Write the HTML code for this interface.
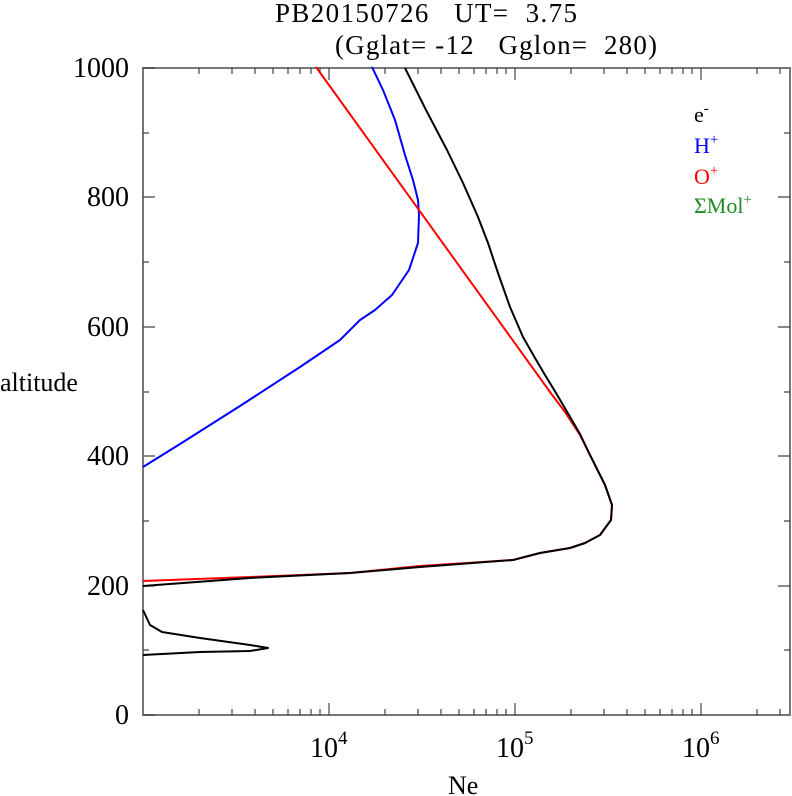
<!DOCTYPE html><html><head><style>body{margin:0;background:#fff}svg{display:block}text{font-family:"Liberation Serif",serif}</style></head><body>
<svg width="792" height="796" viewBox="0 0 792 796">
<text x="275" y="22" font-size="27" xml:space="preserve" textLength="302" lengthAdjust="spacing">PB20150726   UT=  3.75</text>
<text x="335" y="54" font-size="27" xml:space="preserve" textLength="322" lengthAdjust="spacing">(Gglat= -12   Gglon=  280)</text>
<g stroke="#777" stroke-width="2" fill="none"><rect x="143" y="68" width="647" height="647"/></g>
<g stroke="#444" stroke-width="1.2">
<path d="M143 715h12M143 586h12M143 456h12M143 327h12M143 197h12M143 68h12M790 586h-12M790 456h-12M790 327h-12M790 197h-12M143 650h6M143 521h6M143 392h6M143 262h6M143 133h6M790 650h-6M790 521h-6M790 392h-6M790 262h-6M790 133h-6"/>
<path d="M329 715v-12M515 715v-12M701 715v-12M329 68v12M515 68v12M701 68v12"/>
<path d="M199 715v-6M232 715v-6M255 715v-6M273 715v-6M288 715v-6M300 715v-6M311 715v-6M320 715v-6M385 715v-6M418 715v-6M441 715v-6M459 715v-6M474 715v-6M486 715v-6M497 715v-6M506 715v-6M571 715v-6M604 715v-6M627 715v-6M645 715v-6M660 715v-6M672 715v-6M683 715v-6M692 715v-6M757 715v-6M780 715v-6"/>
<path d="M199 68v6M232 68v6M255 68v6M273 68v6M288 68v6M300 68v6M311 68v6M320 68v6M385 68v6M418 68v6M441 68v6M459 68v6M474 68v6M486 68v6M497 68v6M506 68v6M571 68v6M604 68v6M627 68v6M645 68v6M660 68v6M672 68v6M683 68v6M692 68v6M757 68v6M780 68v6"/>
</g>
<g font-size="28" text-anchor="end">
<text x="129" y="724">0</text><text x="129" y="595">200</text><text x="129" y="465">400</text><text x="129" y="336">600</text><text x="129" y="206">800</text><text x="129" y="77">1000</text></g>
<text x="0" y="391" font-size="26">altitude</text>
<g font-size="28"><text x="310" y="757">10<tspan font-size="19" dy="-13">4</tspan></text><text x="496" y="757">10<tspan font-size="19" dy="-13">5</tspan></text><text x="682" y="757">10<tspan font-size="19" dy="-13">6</tspan></text></g>
<text x="448" y="794" font-size="26">Ne</text>
<g fill="none" stroke-width="2" stroke-linejoin="round">
<polyline stroke="#00f" points="372,67 383,90 395,120 405,155 413,180 418,200 419,215 418,243 409,270 392,295 375,310 360,320 340,340 300,367 240,406 180,444 143,467"/>
<polyline stroke="#f00" points="316,67 550,392 565,412 580,435 590,455 605,485 612,505 611,520 600,535 585,543 570,548 540,553 513,560 420,566 350,573"/>
<polyline stroke="#f00" points="143,581 250,577 350,573"/>
<polyline stroke="#000" points="405,68 426,110 447,150 463,183 478,217 488,243 498,273 510,307 523,337 535,358 545,375 556,393 566,410 580,434 590,455 605,485 612,505 611,520 600,535 585,543 570,548 540,553 513,560 420,567 350,573 250,578 143,586"/>
<polyline stroke="#000" points="143,610 150,625 162,632 200,638 250,645 268,648 250,651 200,652 143,655"/>
</g>
<g font-size="22"><text x="694" y="122">e<tspan font-size="15" dy="-9">-</tspan></text>
<text x="694" y="153" fill="#00f">H<tspan font-size="15" dy="-9">+</tspan></text>
<text x="694" y="184" fill="#f00">O<tspan font-size="15" dy="-9">+</tspan></text>
<text x="694" y="213" fill="#228b22">ΣMol<tspan font-size="15" dy="-9">+</tspan></text></g>
</svg></body></html>
